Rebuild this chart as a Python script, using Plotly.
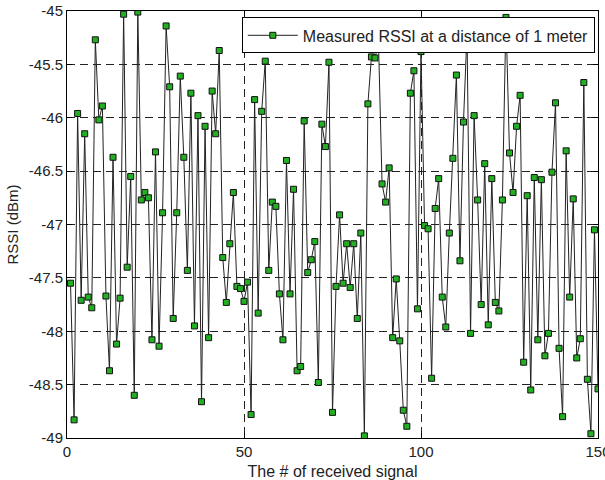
import plotly.graph_objects as go

signal_index = list(range(1, 151))
rssi_dbm = [
    -47.55, -48.83, -45.96, -47.71, -46.15, -47.68, -47.78, -45.27, -46.02, -45.89,
    -47.67, -48.37, -46.37, -48.12, -47.69, -45.03, -47.40, -46.55, -48.60, -45.01,
    -46.77, -46.70, -46.75, -48.08, -46.32, -48.14, -46.89, -45.14, -45.71, -47.88,
    -46.89, -45.61, -46.37, -47.43, -45.77, -47.95, -45.98, -48.66, -46.08, -48.06,
    -45.75, -46.15, -45.37, -47.31, -47.73, -47.18, -46.70, -47.58, -47.60, -47.72,
    -47.54, -48.78, -45.83, -47.83, -45.94, -45.47, -47.43, -46.79, -46.83, -47.65,
    -48.08, -46.40, -47.65, -46.67, -48.37, -48.33, -46.03, -47.45, -47.33, -47.16,
    -48.48, -46.06, -46.27, -45.48, -48.76, -47.58, -46.91, -47.55, -47.18, -47.59,
    -47.18, -47.88, -47.08, -48.98, -45.87, -45.43, -45.44, -45.30, -46.62, -46.79,
    -46.47, -48.06, -47.51, -48.09, -48.74, -48.89, -45.77, -45.56, -47.79, -45.38,
    -47.01, -47.04, -48.44, -46.85, -46.57, -47.68, -47.96, -47.08, -46.38, -45.60,
    -47.34, -46.04, -45.20, -48.02, -45.98, -46.77, -47.75, -46.43, -47.94, -46.57,
    -47.73, -47.81, -46.77, -45.06, -46.33, -46.70, -46.08, -45.79, -48.29, -46.73,
    -48.55, -46.56, -48.08, -46.58, -48.23, -48.02, -46.51, -45.86, -48.16, -48.80,
    -46.31, -47.68, -46.76, -48.25, -48.07, -45.67, -48.45, -48.96, -47.05, -48.54,
]

x_tick_vals = [0, 50, 100, 150]
x_tick_text = ["0", "50", "100", "150"]
y_tick_vals = [-49, -48.5, -48, -47.5, -47, -46.5, -46, -45.5, -45]
y_tick_text = ["-49", "-48.5", "-48", "-47.5", "-47", "-46.5", "-46", "-45.5", "-45"]

FONT = "Liberation Sans, Arial, sans-serif"

fig = go.Figure()
fig.add_trace(go.Scatter(
    x=signal_index, y=rssi_dbm, mode="lines+markers",
    name="Measured RSSI at a distance of 1 meter",
    line=dict(color="#222222", width=1),
    marker=dict(symbol="square", size=6, color="#22b022",
                line=dict(color="#111111", width=1)),
))

axis_common = dict(
    showline=True, linecolor="black", linewidth=1, mirror="ticks",
    ticks="inside", ticklen=5, tickcolor="black",
    showgrid=True, gridcolor="#222222", gridwidth=1, griddash="8px,5px",
    zeroline=False, tickfont=dict(family=FONT, size=15, color="#222222"),
    ticklabeloverflow="allow", automargin=False,
)

fig.update_xaxes(range=[0, 150], tickvals=x_tick_vals, ticktext=x_tick_text,
                 title=dict(text="The # of received signal", standoff=7,
                            font=dict(family=FONT, size=16, color="#222222")),
                 **axis_common)
fig.update_yaxes(range=[-49, -45], tickvals=y_tick_vals, ticktext=y_tick_text,
                 title=dict(text="RSSI (dBm)", standoff=6,
                            font=dict(family=FONT, size=15, color="#222222")),
                 **axis_common)

fig.update_layout(
    width=605, height=480,
    margin=dict(l=67, r=7, t=11, b=42),
    paper_bgcolor="white", plot_bgcolor="white",
    showlegend=True,
    legend=dict(x=0.994, y=0.985, xanchor="right", yanchor="top",
                bgcolor="white", bordercolor="black", borderwidth=1,
                font=dict(family=FONT, size=16, color="#222222"),
                itemwidth=50),
)

fig.write_html("out.html")
